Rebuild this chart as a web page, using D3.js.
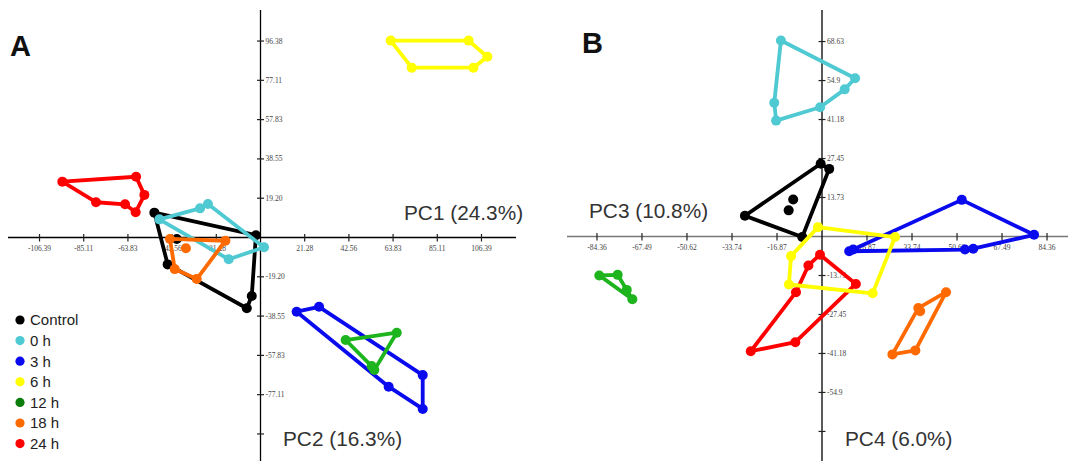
<!DOCTYPE html>
<html><head><meta charset="utf-8">
<script src="https://cdn.jsdelivr.net/npm/d3@7"></script>
<style>html,body{margin:0;padding:0;background:#fff;}svg{display:block;}</style>
</head><body>
<svg id="c" width="1068" height="461"></svg>
<script>
// ---- data ----
const groups = ["Control", "0 h", "3 h", "6 h", "12 h", "18 h", "24 h"];
const colors = ["#000000", "#4fc9d2", "#0a0aee", "#ffff00", "#1db41d", "#ff6a00", "#ff0000"];
const legendColors = ["#000000", "#4fc9d2", "#0a0aee", "#ffff00", "#0b7d0b", "#ff6a00", "#ff0000"];

// Panel A (PC1 x, PC2 y): hull vertices in order, plus interior points
const hullA = {
  "Control": [[-51.1,12.2],[-2.2,1.1],[-4.2,-28.7],[-6.6,-34.7],[-44.7,-13.2]],
  "0 h": [[-48.7,8.9],[-29.1,14.3],[-25.3,16.4],[1.7,-4.8],[-15.3,-10.7]],
  "3 h": [[17.4,-36.4],[28.2,-34.0],[78.1,-67.5],[78.1,-84.1],[61.7,-73.2]],
  "6 h": [[62.7,96.6],[100.2,96.6],[109.2,88.7],[102.5,83.3],[72.8,83.3]],
  "12 h": [[41.0,-50.3],[65.6,-46.7],[54.8,-65.0],[53.5,-63.1]],
  "18 h": [[-43.6,-0.7],[-16.9,-1.6],[-30.7,-20.4],[-41.3,-15.5]],
  "24 h": [[-95.4,27.4],[-59.9,29.8],[-55.9,20.9],[-60.1,12.4],[-65.2,16.3],[-79.2,17.3]]
};
const innerA = {
  "Control": [[-40.3,-0.7]],
  "0 h": [], "3 h": [], "6 h": [], "12 h": [],
  "18 h": [[-35.9,-5.3]],
  "24 h": []
};
// Panel B (PC3 x, PC4 y)
const hullB = {
  "Control": [[-28.9,7.3],[-0.5,25.6],[2.7,23.8],[-7.4,-0.2]],
  "0 h": [[-15.4,69.0],[12.4,55.7],[8.5,51.8],[-0.7,45.5],[-17.2,40.8],[-17.9,47.1]],
  "3 h": [[10.2,-5.2],[52.4,12.9],[79.5,0.6],[56.7,-4.3],[53.6,-4.6]],
  "6 h": [[-1.5,3.3],[27.4,-0.2],[19.0,-20.0],[-12.4,-16.9],[-11.6,-6.9]],
  "12 h": [[-83.5,-13.7],[-76.6,-13.5],[-73.2,-18.8],[-71.1,-22.1]],
  "18 h": [[46.5,-19.6],[36.1,-25.2],[26.4,-41.5],[35.0,-40.1]],
  "24 h": [[-0.75,-6.4],[12.7,-16.7],[-10.0,-37.2],[-26.7,-40.4],[-9.75,-19.6],[-5.1,-10.2]]
};
const innerB = {
  "Control": [[-10.8,13.0],[-12.5,9.2]],
  "0 h": [], "3 h": [[11.7,-4.6]], "6 h": [], "12 h": [],
  "18 h": [[36.8,-26.3]],
  "24 h": []
};

// tick values and labels
const xTicksA = [-106.39,-85.11,-63.83,-42.56,-21.28,21.28,42.56,63.83,85.11,106.39];
const xTickLabelsA = ["-106.39","-85.11","-63.83","-42.56","-21.28","21.28","42.56","63.83","85.11","106.39"];
const yTicksA = [96.38,77.11,57.83,38.55,19.28,-19.28,-38.55,-57.83,-77.11,-96.38];
const yTickLabelsA = ["96.38","77.11","57.83","38.55","19.20","-19.20","-38.55","-57.83","-77.11",""];
const xTicksB = [-84.36,-67.49,-50.62,-33.74,-16.87,16.87,33.74,50.62,67.49,84.36];
const xTickLabelsB = ["-84.36","-67.49","-50.62","-33.74","-16.87","16.87","33.74","50.62","67.49","84.36"];
const yTicksB = [68.63,54.9,41.18,27.45,13.73,-13.73,-27.45,-41.18,-54.9,-68.63];
const yTickLabelsB = ["68.63","54.9","41.18","27.45","13.73","-13.73","-27.45","-41.18","-54.9",""];

const drawOrderA = ["Control","0 h","18 h","24 h","3 h","12 h","6 h"];
const drawOrderB = ["0 h","Control","12 h","3 h","24 h","6 h","18 h"];

// ---- drawing ----
const svg = d3.select("#c");

function panel(cfg) {
  const g = svg.append("g");
  const x = cfg.x, y = cfg.y;
  g.append("line").attr("x1", cfg.xExt[0]).attr("x2", cfg.xExt[1])
    .attr("y1", y(0)).attr("y2", y(0)).attr("stroke", cfg.xAxisColor).attr("stroke-width", 1.3);
  g.append("line").attr("x1", x(0)).attr("x2", x(0))
    .attr("y1", cfg.yExt[0]).attr("y2", cfg.yExt[1]).attr("stroke", "#000").attr("stroke-width", 1.3);
  cfg.xTicks.forEach((v, i) => {
    g.append("line").attr("x1", x(v)).attr("x2", x(v)).attr("y1", y(0) - 3.5).attr("y2", y(0) + 4)
      .attr("stroke", "#222").attr("stroke-width", 1.2);
    g.append("text").attr("x", x(v)).attr("y", y(0) + 13).attr("text-anchor", "middle")
      .attr("font-family", "Liberation Serif, serif").attr("font-size", 7.5).attr("fill", "#444")
      .text(cfg.xLabels[i]);
  });
  cfg.yTicks.forEach((v, i) => {
    g.append("line").attr("x1", x(0) - 3.5).attr("x2", x(0) + 3.5).attr("y1", y(v)).attr("y2", y(v))
      .attr("stroke", "#222").attr("stroke-width", 1.2);
    g.append("text").attr("x", x(0) + 5).attr("y", y(v) + 2.5).attr("text-anchor", "start")
      .attr("font-family", "Liberation Serif, serif").attr("font-size", 7.5).attr("fill", "#444")
      .text(cfg.yLabels[i]);
  });
  const line = d3.line().x(d => x(d[0])).y(d => y(d[1])).curve(d3.curveLinearClosed);
  cfg.order.forEach(name => {
    const c = colors[groups.indexOf(name)];
    const pts = cfg.hull[name];
    g.append("path").attr("d", line(pts)).attr("fill", "none").attr("stroke", c)
      .attr("stroke-width", 3.8).attr("stroke-linejoin", "round");
    g.selectAll(null).data(pts.concat(cfg.inner[name])).enter().append("circle")
      .attr("cx", d => x(d[0])).attr("cy", d => y(d[1])).attr("r", 5).attr("fill", c);
  });
  cfg.labels.forEach(l => {
    g.append("text").attr("x", l.x).attr("y", l.y).attr("font-family", "Liberation Sans, Arial, sans-serif")
      .attr("font-size", 20.8).attr("fill", "#333").text(l.t);
  });
}

panel({
  x: d3.scaleLinear().domain([0, 21.28]).range([260.5, 304.7]),
  y: d3.scaleLinear().domain([0, 19.28]).range([237.5, 198.2]),
  xExt: [8, 516], yExt: [10, 461], xAxisColor: "#000",
  xTicks: xTicksA, xLabels: xTickLabelsA, yTicks: yTicksA, yLabels: yTickLabelsA,
  hull: hullA, inner: innerA, order: drawOrderA,
  labels: [{x: 404, y: 220, t: "PC1 (24.3%)"}, {x: 283, y: 446, t: "PC2 (16.3%)"}]
});
panel({
  x: d3.scaleLinear().domain([0, 16.87]).range([822, 867]),
  y: d3.scaleLinear().domain([0, 13.73]).range([236.5, 197.5]),
  xExt: [567, 1068], yExt: [10, 461], xAxisColor: "#777",
  xTicks: xTicksB, xLabels: xTickLabelsB, yTicks: yTicksB, yLabels: yTickLabelsB,
  hull: hullB, inner: innerB, order: drawOrderB,
  labels: [{x: 589, y: 218, t: "PC3 (10.8%)"}, {x: 845, y: 446, t: "PC4 (6.0%)"}]
});

svg.append("text").attr("x", 10).attr("y", 56).attr("font-family", "Liberation Sans, Arial, sans-serif")
  .attr("font-weight", "bold").attr("font-size", 29).attr("fill", "#111").text("A");
svg.append("text").attr("x", 582).attr("y", 53).attr("font-family", "Liberation Sans, Arial, sans-serif")
  .attr("font-weight", "bold").attr("font-size", 29).attr("fill", "#111").text("B");

const leg = svg.append("g");
groups.forEach((gname, i) => {
  const yy = 320 + i * 20.6;
  leg.append("circle").attr("cx", 20).attr("cy", yy).attr("r", 4.6).attr("fill", legendColors[i]);
  leg.append("text").attr("x", 30).attr("y", yy + 5.3).attr("font-family", "Liberation Sans, Arial, sans-serif")
    .attr("font-size", 15).attr("fill", "#222").text(gname);
});
</script>
</body></html>
